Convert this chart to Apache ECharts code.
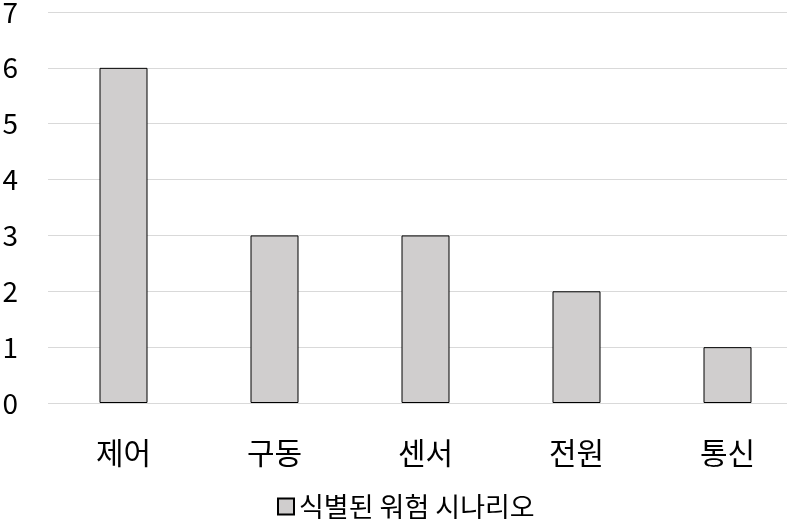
<!DOCTYPE html>
<html>
<head>
<meta charset="utf-8">
<script src="https://cdn.jsdelivr.net/npm/echarts@6/dist/echarts.min.js"></script>
<style>
  html, body { margin: 0; padding: 0; background: #fff; }
  #chart { width: 787px; height: 519px; }
</style>
</head>
<body>
<div id="chart"></div>
<script>
const categories = ['제어', '구동', '센서', '전원', '통신']
const scenarioCounts = [6, 3, 3, 2, 1]
const seriesName = '식별된 워험 시나리오'

const font = '"Noto Sans CJK KR", "Noto Sans", sans-serif'

const chart = echarts.init(document.getElementById('chart'))
chart.setOption({
  animation: false,
  textStyle: { fontFamily: font },
  grid: {
    left: 48, top: 12, width: 755, height: 391,
    containLabel: false, outerBoundsMode: 'none'
  },
  legend: {
    top: 488,
    left: 272,
    itemWidth: 16,
    itemHeight: 16,
    itemGap: 5,
    textStyle: { fontSize: 27, color: '#000', fontFamily: font },
    data: [{ name: seriesName, icon: 'rect' }]
  },
  xAxis: {
    type: 'category',
    data: categories,
    axisLine: { show: false },
    axisTick: { show: false },
    axisLabel: { fontSize: 30, color: '#000', margin: 35, fontFamily: font }
  },
  yAxis: {
    type: 'value',
    min: 0,
    max: 7,
    interval: 1,
    axisLine: { show: false },
    axisTick: { show: false },
    axisLabel: { fontSize: 28, color: '#000', margin: 30, fontFamily: font },
    splitLine: { lineStyle: { color: '#d9d9d9', width: 1 } }
  },
  series: [{
    name: seriesName,
    type: 'bar',
    data: scenarioCounts,
    barWidth: 48,
    itemStyle: { color: '#d0cece', borderColor: '#000', borderWidth: 1 }
  }]
})
</script>
</body>
</html>
